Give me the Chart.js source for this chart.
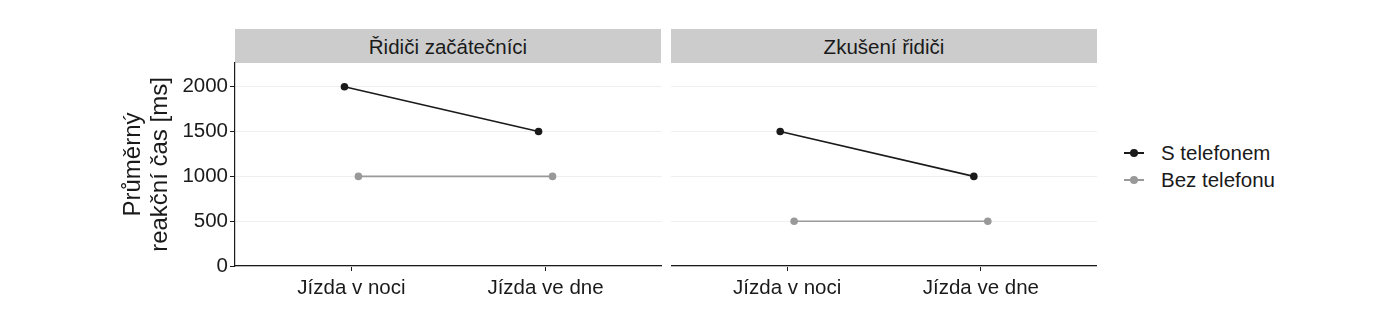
<!DOCTYPE html>
<html>
<head>
<meta charset="utf-8">
<script src="https://cdn.jsdelivr.net/npm/chart.js@4"></script>
<style>
  body { margin: 0; background: #fff; font-family: "Liberation Sans", Arial, sans-serif; }
  #wrap { position: relative; width: 1395px; height: 316px; overflow: hidden; }
  .strip { position: absolute; top: 29px; height: 34px; background: #cccccc; color: #1a1a1a;
           font-size: 20.5px; line-height: 35px; text-align: center; }
  canvas { position: absolute; top: 0; }
  .leg { position: absolute; left: 1124px; font-size: 20.5px; color: #1a1a1a; height: 24px; line-height: 24px; }
  .leg .ln { position: absolute; left: 0; top: 11px; width: 20px; height: 2px; }
  .leg .dt { position: absolute; left: 6px; top: 8px; width: 8px; height: 8px; border-radius: 50%; }
  .leg .tx { position: absolute; left: 37px; top: 0; white-space: nowrap; }
</style>
</head>
<body>
<div id="wrap">
  <div class="strip" style="left:235px;width:426px;">Řidiči začátečníci</div>
  <div class="strip" style="left:671px;width:426px;">Zkušení řidiči</div>
  <canvas id="c1" width="542" height="316" style="left:120px;width:542px;height:316px;"></canvas>
  <canvas id="c2" width="426" height="316" style="left:671px;width:426px;height:316px;"></canvas>
  <div id="legend"></div>
</div>
<script>
// kategorie a hodnoty
const categories = ['Jízda v noci', 'Jízda ve dne'];
const panels = ['Řidiči začátečníci', 'Zkušení řidiči'];
const seriesNames = ['S telefonem', 'Bez telefonu'];
const seriesColors = ['#1a1a1a', '#999999'];
const noviceWithPhone = [2000, 1500];
const noviceNoPhone = [1000, 1000];
const expertWithPhone = [1500, 1000];
const expertNoPhone = [500, 500];
const yTicks = [0, 500, 1000, 1500, 2000];

const dodge = 0.036;

function toPoints(values, shift) {
    return values.map((v, i) => ({ x: i + 1 + shift, y: v }));
}

function makeDatasets(withPhone, noPhone) {
    return [withPhone, noPhone].map((vals, s) => ({
        label: seriesNames[s],
        data: toPoints(vals, s === 0 ? -dodge : dodge),
        borderColor: seriesColors[s],
        backgroundColor: seriesColors[s],
        borderWidth: 1.6,
        pointRadius: 3.8,
        pointHoverRadius: 3.8,
        pointBorderWidth: 0,
        showLine: true,
        tension: 0
    }));
}

function makeChart(id, datasets, showY) {
    const ctx = document.getElementById(id).getContext('2d');
    return new Chart(ctx, {
        type: 'scatter',
        data: { datasets: datasets },
        options: {
            responsive: false,
            animation: false,
            layout: { autoPadding: false, padding: { top: 63, left: 0, right: 0, bottom: 0 } },
            plugins: { legend: { display: false }, tooltip: { enabled: false } },
            scales: {
                x: {
                    type: 'linear',
                    min: 0.4,
                    max: 2.6,
                    afterBuildTicks: axis => { axis.ticks = categories.map((_, i) => ({ value: i + 1 })); },
                    afterFit: axis => { axis.height = 50; },
                    ticks: {
                        callback: v => categories[Math.round(v) - 1],
                        color: '#1a1a1a',
                        font: { family: 'Liberation Sans', size: 20.5 },
                        padding: 5,
                        maxRotation: 0
                    },
                    grid: { drawOnChartArea: false, tickLength: 5, tickColor: '#1a1a1a' },
                    border: { display: true, color: '#1a1a1a', width: 1.2 }
                },
                y: {
                    min: 0,
                    max: 2265,
                    afterBuildTicks: axis => { axis.ticks = yTicks.map(v => ({ value: v })); },
                    afterFit: axis => { axis.width = showY ? 115 : 0; },
                    ticks: {
                        display: showY,
                        callback: v => String(v),
                        color: '#1a1a1a',
                        font: { family: 'Liberation Sans', size: 20.5 },
                        padding: 2
                    },
                    grid: { color: '#efefef', lineWidth: 1, drawTicks: showY, tickLength: 5, tickColor: '#1a1a1a' },
                    border: { display: showY, color: '#1a1a1a', width: 1.2 },
                    title: {
                        display: showY,
                        text: ['Průměrný', 'reakční čas [ms]'],
                        color: '#1a1a1a',
                        font: { family: 'Liberation Sans', size: 24, lineHeight: 1.125 },
                        padding: { top: 0, bottom: 0 }
                    }
                }
            }
        }
    });
}

makeChart('c1', makeDatasets(noviceWithPhone, noviceNoPhone), true);
makeChart('c2', makeDatasets(expertWithPhone, expertNoPhone), false);

// legenda
const legend = document.getElementById('legend');
seriesNames.forEach((name, s) => {
    const row = document.createElement('div');
    row.className = 'leg';
    row.style.top = (141 + s * 27) + 'px';
    row.innerHTML = '<span class="ln" style="background:' + seriesColors[s] + '"></span>' +
        '<span class="dt" style="background:' + seriesColors[s] + '"></span>' +
        '<span class="tx">' + name + '</span>';
    legend.appendChild(row);
});
</script>
</body>
</html>
